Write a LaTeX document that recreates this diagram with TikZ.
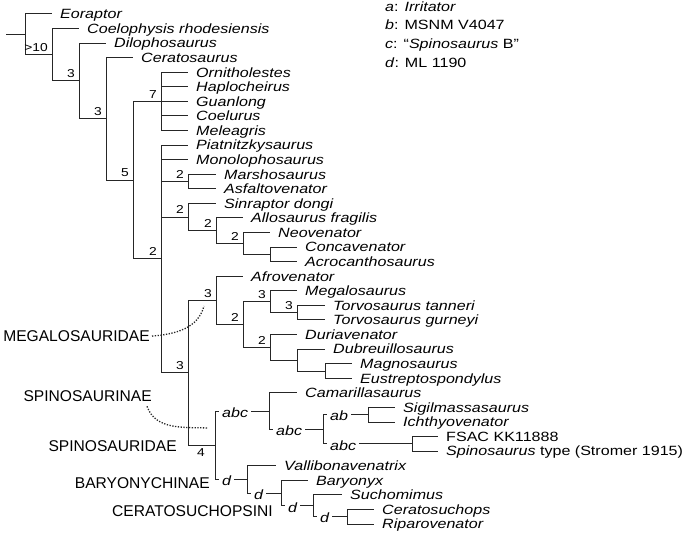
\documentclass[tikz,border=0pt]{standalone}
\usepackage{fontspec}
\usepackage{tikz}
\setmainfont{Liberation Sans}
\newfontfamily\taxfont[FakeStretch=1.2]{Liberation Sans}
\newcommand\treefont{\taxfont\fontsize{13.4}{16}\selectfont}
\newcommand\numfont{\taxfont\fontsize{11.5}{13}\selectfont}
\newcommand\cladefont{\fontsize{15.6}{18}\selectfont}

\begin{document}
\begin{tikzpicture}[x=1pt,y=-1pt,
    branch/.style={line width=1pt,draw=black!85},
    taxon/.style={anchor=west,inner xsep=8pt,inner ysep=0pt,text height=9.6pt,text depth=0pt,font=\treefont\itshape},
    tick/.style={anchor=west,inner xsep=3pt,inner ysep=0pt,text height=12.5pt,text depth=0pt,font=\treefont\itshape},
    support/.style={anchor=south east,inner sep=0pt,xshift=-4pt,yshift=3pt,font=\numfont},
    clade/.style={anchor=base east,inner sep=2pt,font=\cladefont},
    cladelink/.style={line width=1.3pt,dash pattern=on 1.3pt off 1.5pt,draw=black!85},
    legend/.style={anchor=base west,inner sep=0pt,font=\treefont}]
  \useasboundingbox (0,0) rectangle (685,534);

  % internal nodes
  \coordinate (root) at (6,34.4);
  \coordinate (eo) at (25,34.4);
  \coordinate (coe) at (52,54.8);
  \coordinate (dil) at (79,81.0);
  \coordinate (cer) at (106,118.95);
  \coordinate (avt) at (133,180.2);
  \coordinate (coel) at (161,101.4);
  \coordinate (tet) at (161,259.0);
  \coordinate (mar) at (188,181.55);
  \coordinate (sin) at (188,217.1);
  \coordinate (allo) at (216,230.75);
  \coordinate (neo) at (243,243.5);
  \coordinate (carch) at (270,254.4);
  \coordinate (megs) at (188,372.8);
  \coordinate (megd) at (216,300.4);
  \coordinate (megm) at (243,324.5);
  \coordinate (mega) at (270,301.75);
  \coordinate (torv) at (297,312.7);
  \coordinate (afro) at (270,347.3);
  \coordinate (dub) at (297,360.05);
  \coordinate (magno) at (325,371.0);
  \coordinate (spd) at (215,445.2);
  \coordinate (cam) at (269,411.0);
  \coordinate (spn) at (323,429.25);
  \coordinate (sig) at (368,414.7);
  \coordinate (fsk) at (412,443.8);
  \coordinate (val) at (247,479.35);
  \coordinate (bar) at (281,493.0);
  \coordinate (such) at (313,505.75);
  \coordinate (rip) at (347,516.7);

  % terminal taxa
  \node[taxon] (eoraptor) at (52,14.0) {Eoraptor};
  \node[taxon] (coelophysis) at (79,28.6) {Coelophysis rhodesiensis};
  \node[taxon] (dilophosaurus) at (106,43.1) {Dilophosaurus};
  \node[taxon] (ceratosaurus) at (133,57.7) {Ceratosaurus};
  \node[taxon] (ornitholestes) at (188,72.3) {Ornitholestes};
  \node[taxon] (haplocheirus) at (188,86.9) {Haplocheirus};
  \node[taxon] (guanlong) at (188,101.4) {Guanlong};
  \node[taxon] (coelurus) at (188,116.0) {Coelurus};
  \node[taxon] (meleagris) at (188,130.6) {Meleagris};
  \node[taxon] (piatnitzkysaurus) at (188,145.1) {Piatnitzkysaurus};
  \node[taxon] (monolophosaurus) at (188,159.7) {Monolophosaurus};
  \node[taxon] (marshosaurus) at (216,174.3) {Marshosaurus};
  \node[taxon] (asfaltovenator) at (216,188.8) {Asfaltovenator};
  \node[taxon] (sinraptor) at (216,203.4) {Sinraptor dongi};
  \node[taxon] (allosaurus) at (243,218.0) {Allosaurus fragilis};
  \node[taxon] (neovenator) at (270,232.6) {Neovenator};
  \node[taxon] (concavenator) at (297,247.1) {Concavenator};
  \node[taxon] (acrocanthosaurus) at (297,261.7) {Acrocanthosaurus};
  \node[taxon] (afrovenator) at (243,276.3) {Afrovenator};
  \node[taxon] (megalosaurus) at (297,290.8) {Megalosaurus};
  \node[taxon] (tanneri) at (325,305.4) {Torvosaurus tanneri};
  \node[taxon] (gurneyi) at (325,320.0) {Torvosaurus gurneyi};
  \node[taxon] (duriavenator) at (297,334.5) {Duriavenator};
  \node[taxon] (dubreuillosaurus) at (325,349.1) {Dubreuillosaurus};
  \node[taxon] (magnosaurus) at (352,363.7) {Magnosaurus};
  \node[taxon] (eustreptospondylus) at (352,378.3) {Eustreptospondylus};
  \node[taxon] (camarillasaurus) at (297,392.8) {Camarillasaurus};
  \node[taxon] (sigilmassasaurus) at (395,407.4) {Sigilmassasaurus};
  \node[taxon] (ichthyovenator) at (395,422.0) {Ichthyovenator};
  \node[taxon] (fsac) at (438,436.5) {\upshape FSAC KK11888};
  \node[taxon] (spinosaurus) at (438,451.1) {Spinosaurus \textup{type (Stromer 1915)}};
  \node[taxon] (vallibonavenatrix) at (276,465.7) {Vallibonavenatrix};
  \node[taxon] (baryonyx) at (308,480.2) {Baryonyx};
  \node[taxon] (suchomimus) at (342,494.8) {Suchomimus};
  \node[taxon] (ceratosuchops) at (374,509.4) {Ceratosuchops};
  \node[taxon] (riparovenator) at (374,524.0) {Riparovenator};

  % specimen codes on spinosaurid branches
  \node[tick] (t_cam) at (219,411.0) {abc};
  \node[tick] (t_val) at (219,479.35) {d};
  \node[tick] (t_spn) at (273,429.25) {abc};
  \node[tick] (t_sig) at (327,414.7) {ab};
  \node[tick] (t_fsk) at (327,443.8) {abc};
  \node[tick] (t_bar) at (251,493.0) {d};
  \node[tick] (t_such) at (285,505.75) {d};
  \node[tick] (t_rip) at (317,516.7) {d};

  % branches
  \draw[branch] (root) -- (eo);
  \draw[branch] (eo) |- (eoraptor) (eo) |- (coe);
  \draw[branch] (coe) |- (coelophysis) (coe) |- (dil);
  \draw[branch] (dil) |- (dilophosaurus) (dil) |- (cer);
  \draw[branch] (cer) |- (ceratosaurus) (cer) |- (avt);
  \draw[branch] (avt) |- (coel) (avt) |- (tet);
  \draw[branch] (coel) |- (ornitholestes) (coel) |- (haplocheirus) (coel) |- (guanlong) (coel) |- (coelurus) (coel) |- (meleagris);
  \draw[branch] (tet) |- (piatnitzkysaurus) (tet) |- (monolophosaurus) (tet) |- (mar) (tet) |- (sin) (tet) |- (megs);
  \draw[branch] (mar) |- (marshosaurus) (mar) |- (asfaltovenator);
  \draw[branch] (sin) |- (sinraptor) (sin) |- (allo);
  \draw[branch] (allo) |- (allosaurus) (allo) |- (neo);
  \draw[branch] (neo) |- (neovenator) (neo) |- (carch);
  \draw[branch] (carch) |- (concavenator) (carch) |- (acrocanthosaurus);
  \draw[branch] (megs) |- (megd) (megs) |- (spd);
  \draw[branch] (megd) |- (afrovenator) (megd) |- (megm);
  \draw[branch] (megm) |- (mega) (megm) |- (afro);
  \draw[branch] (mega) |- (megalosaurus) (mega) |- (torv);
  \draw[branch] (torv) |- (tanneri) (torv) |- (gurneyi);
  \draw[branch] (afro) |- (duriavenator) (afro) |- (dub);
  \draw[branch] (dub) |- (dubreuillosaurus) (dub) |- (magno);
  \draw[branch] (magno) |- (magnosaurus) (magno) |- (eustreptospondylus);
  \draw[branch] (spd) |- (t_cam) (t_cam) -- (cam) (spd) |- (t_val) (t_val) -- (val);
  \draw[branch] (cam) |- (camarillasaurus) (cam) |- (t_spn) (t_spn) -- (spn);
  \draw[branch] (spn) |- (t_sig) (t_sig) -- (sig) (spn) |- (t_fsk) (t_fsk) -- (fsk);
  \draw[branch] (sig) |- (sigilmassasaurus) (sig) |- (ichthyovenator);
  \draw[branch] (fsk) |- (fsac) (fsk) |- (spinosaurus);
  \draw[branch] (val) |- (vallibonavenatrix) (val) |- (t_bar) (t_bar) -- (bar);
  \draw[branch] (bar) |- (baryonyx) (bar) |- (t_such) (t_such) -- (such);
  \draw[branch] (such) |- (suchomimus) (such) |- (t_rip) (t_rip) -- (rip);
  \draw[branch] (rip) |- (ceratosuchops) (rip) |- (riparovenator);

  % Bremer support
  \node[support] (s_coe) at (coe) {>10};
  \node[support] (s_dil) at (dil) {3};
  \node[support] (s_cer) at (cer) {3};
  \node[support] (s_avt) at (avt) {5};
  \node[support] (s_coel) at (coel) {7};
  \node[support] (s_tet) at (tet) {2};
  \node[support] (s_mar) at (mar) {2};
  \node[support] (s_sin) at (sin) {2};
  \node[support] (s_allo) at (allo) {2};
  \node[support] (s_neo) at (neo) {2};
  \node[support] (s_megd) at (megd) {3};
  \node[support] (s_megm) at (megm) {2};
  \node[support] (s_mega) at (mega) {3};
  \node[support] (s_torv) at (torv) {3};
  \node[support] (s_afro) at (afro) {2};
  \node[support] (s_megs) at (megs) {3};
  \node[support,anchor=north east,xshift=-6pt,yshift=-6pt] (s_spd) at (spd) {4};

  % clade names
  \node[clade] (megalosauridae) at (152,341.5) {MEGALOSAURIDAE};
  \node[clade] (spinosaurinae) at (154,401) {SPINOSAURINAE};
  \node[clade] (spinosauridae) at (179,451.5) {SPINOSAURIDAE};
  \node[clade] (baryonychinae) at (212,488) {BARYONYCHINAE};
  \node[clade] (ceratosuchopsini) at (275,516.5) {CERATOSUCHOPSINI};
  \coordinate (megd_tip) at (204,306);
  \coordinate (spn_tip) at (208,428);
  \draw[cladelink] (megalosauridae.east) to[out=5,in=-105] (megd_tip);
  \draw[cladelink] ([xshift=-7pt,yshift=-3pt]spinosaurinae.south east) to[out=-70,in=178] (spn_tip);

  % key to specimen codes
  \node[legend] (key_a) at (385,11.4) {\textit{a}: \textit{Irritator}};
  \node[legend] (key_b) at (385,30.0) {\textit{b}: MSNM V4047};
  \node[legend] (key_c) at (385,48.6) {\textit{c}: “\textit{Spinosaurus} B”};
  \node[legend] (key_d) at (385,67.2) {\textit{d}: ML 1190};
\end{tikzpicture}
\end{document}
